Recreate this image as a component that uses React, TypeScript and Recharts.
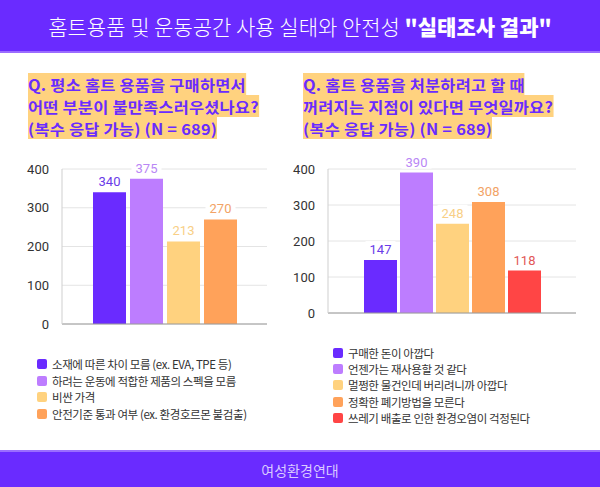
import { BarChart, Bar, XAxis, YAxis, CartesianGrid, LabelList, ReferenceLine } from 'recharts'

const PURPLE = '#6a2bff'
const LAVENDER = '#bd7dff'
const YELLOW = '#ffd27f'
const ORANGE = '#ffa25a'
const RED = '#ff4545'

const leftCategories = [
  '소재에 따른 차이 모름 (ex. EVA, TPE 등)',
  '하려는 운동에 적합한 제품의 스펙을 모름',
  '비싼 가격',
  '안전기준 통과 여부 (ex. 환경호르몬 불검출)',
]
const leftValues = [340, 375, 213, 270]
const leftColors = [PURPLE, LAVENDER, YELLOW, ORANGE]
const leftLabelColors = ['#6a3be8', '#b987f5', '#f8cf86', '#f2a366']

const rightCategories = [
  '구매한 돈이 아깝다',
  '언젠가는 재사용할 것 같다',
  '멀쩡한 물건인데 버리려니까 아깝다',
  '정확한 폐기방법을 모른다',
  '쓰레기 배출로 인한 환경오염이 걱정된다',
]
const rightValues = [147, 390, 248, 308, 118]
const rightColors = [PURPLE, LAVENDER, YELLOW, ORANGE, RED]
const rightLabelColors = ['#6a3be8', '#b987f5', '#f8cf86', '#f2a366', '#e25757']

const yTicks = [0, 100, 200, 300, 400]

const leftTitle = ['Q. 평소 홈트 용품을 구매하면서', '어떤 부분이 불만족스러우셨나요?', '(복수 응답 가능) (N = 689)']
const rightTitle = ['Q. 홈트 용품을 처분하려고 할 때', '꺼려지는 지점이 있다면 무엇일까요?', '(복수 응답 가능) (N = 689)']

const KR = '"Noto Sans CJK KR", "Noto Sans", sans-serif'
const NUM = 'Roboto, "Noto Sans", sans-serif'

function toRow(values: number[]) {
  const row: Record<string, number | string> = { name: 'q' }
  values.forEach((v, i) => { row[`v${i}`] = v })
  return [row]
}

function valueLabel(color: string) {
  return (props: any) => {
    const { x, y, width, value } = props
    const cx = Number(x) + Number(width) / 2
    return (
      <g>
        <rect x={cx - 15} y={Number(y) - 19} width={30} height={15} fill="#fff" />
        <text x={cx} y={Number(y) - 6} textAnchor="middle" fill={color} fontSize={13} fontFamily={NUM}>
          {value}
        </text>
      </g>
    )
  }
}

// titles: 22px line pitch keeps the glyph boxes from stacking on each other,
// a slight horizontal stretch makes up the width of the original lettering
function Title({ lines, left }: { lines: string[]; left: number }) {
  return (
    <div style={{ position: 'absolute', left, top: 73, fontFamily: KR, fontWeight: 700, fontSize: 15.2, color: PURPLE, letterSpacing: 0.2, transform: 'scaleX(1.08)', transformOrigin: 'left top' }}>
      {lines.map((l, i) => (
        <div key={i} style={{ whiteSpace: 'nowrap', width: 'fit-content', height: 22, lineHeight: '22px', background: YELLOW }}>
          {l}
        </div>
      ))}
    </div>
  )
}

function LegendList({ items, colors, left, top, step }: { items: string[]; colors: string[]; left: number; top: number; step: number }) {
  return (
    <div style={{ position: 'absolute', left, top, fontFamily: KR, fontSize: 11.5, color: '#333', letterSpacing: -0.4 }}>
      {items.map((t, i) => (
        <div key={i} style={{ display: 'flex', alignItems: 'center', height: step }}>
          <span style={{ width: 10, height: 10, borderRadius: 2, background: colors[i], marginRight: 5, flexShrink: 0 }} />
          <span style={{ whiteSpace: 'nowrap' }}>{t}</span>
        </div>
      ))}
    </div>
  )
}

function Chart({ values, colors, labelColors, width, height, yWidth, margin, gap }: any) {
  return (
    <BarChart width={width} height={height} data={toRow(values)} margin={margin} barGap={gap}>
      <CartesianGrid vertical={false} stroke="#e4e4e4" />
      <XAxis dataKey="name" hide />
      <YAxis
        domain={[0, 400]}
        ticks={yTicks}
        width={yWidth}
        tickLine={false}
        axisLine={{ stroke: '#cfcfcf' }}
        tick={{ fill: '#333', fontSize: 13, fontFamily: NUM }}
        tickMargin={7}
      />
      <ReferenceLine y={0} stroke="#9a9a9a" />
      {values.map((_: number, i: number) => (
        <Bar key={i} dataKey={`v${i}`} fill={colors[i]} barSize={33} isAnimationActive={false}>
          <LabelList dataKey={`v${i}`} content={valueLabel(labelColors[i])} />
        </Bar>
      ))}
    </BarChart>
  )
}

export default function App() {
  return (
    <div style={{ position: 'absolute', left: 0, top: 0, width: 600, height: 487, background: '#fff', overflow: 'hidden' }}>
      <div style={{ position: 'absolute', left: 0, top: 0, width: 600, height: 51, background: PURPLE, borderBottom: '2px solid #9b6dff', display: 'flex', alignItems: 'center', justifyContent: 'center', color: '#fff', fontFamily: KR, fontSize: 21, whiteSpace: 'nowrap' }}>
        <span style={{ fontWeight: 300 }}>홈트용품 및 운동공간 사용 실태와 안전성&nbsp;</span>
        <span style={{ fontWeight: 900 }}>"실태조사 결과"</span>
      </div>

      <Title lines={leftTitle} left={28} />
      <Title lines={rightTitle} left={303} />

      <div style={{ position: 'absolute', left: 15, top: 150 }}>
        <Chart values={leftValues} colors={leftColors} labelColors={leftLabelColors} width={260} height={185} yWidth={47} margin={{ top: 19, right: 8, bottom: 11, left: 0 }} gap={4} />
      </div>
      <div style={{ position: 'absolute', left: 290, top: 150 }}>
        <Chart values={rightValues} colors={rightColors} labelColors={rightLabelColors} width={292} height={175} yWidth={38} margin={{ top: 19, right: 6, bottom: 12, left: 0 }} gap={3} />
      </div>

      <LegendList items={leftCategories} colors={leftColors} left={37} top={356} step={16.5} />
      <LegendList items={rightCategories} colors={rightColors} left={333} top={345} step={16.2} />

      <div style={{ position: 'absolute', left: 0, top: 450, width: 600, height: 37, background: PURPLE, borderTop: '2px solid #9b6dff', boxSizing: 'border-box', display: 'flex', alignItems: 'center', justifyContent: 'center', color: '#d9c9ff', fontFamily: KR, fontSize: 14 }}>
        여성환경연대
      </div>
    </div>
  )
}
